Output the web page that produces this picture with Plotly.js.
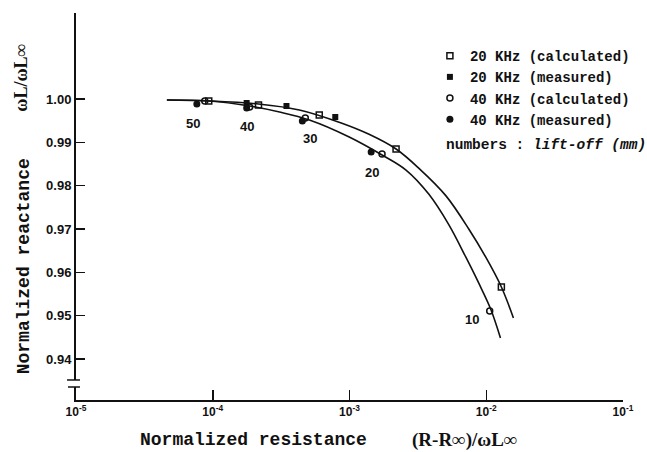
<!DOCTYPE html>
<html>
<head>
<meta charset="utf-8">
<script src="https://cdn.plot.ly/plotly-3.0.1.min.js"></script>
<style>html,body{margin:0;padding:0;background:#fff;}#chart{width:647px;height:452px;}</style>
</head>
<body>
<div id="chart"></div>
<script>
// ---- data ----
// 20 kHz calculated curve (solid line)
const curve20X = [4.62e-5, 9.51e-5, 2.16e-4, 4.30e-4, 8.70e-4, 1.39e-3, 2.19e-3, 3.22e-3, 5.06e-3, 7.45e-3, 9.90e-3, 1.29e-2, 1.58e-2];
const curve20Y = [0.99977, 0.99954, 0.99885, 0.99746, 0.99446, 0.99185, 0.98846, 0.98400, 0.97770, 0.97000, 0.96354, 0.95661, 0.94946];
// 40 kHz calculated curve (solid line)
const curve40X = [4.62e-5, 9.51e-5, 1.86e-4, 3.08e-4, 5.09e-4, 9.95e-4, 1.73e-3, 2.59e-3, 3.81e-3, 5.32e-3, 7.08e-3, 8.80e-3, 1.077e-2, 1.27e-2];
const curve40Y = [0.99977, 0.99954, 0.99838, 0.99700, 0.99515, 0.99123, 0.98708, 0.98361, 0.97800, 0.97100, 0.96354, 0.95754, 0.95154, 0.94484];

// markers
const calc20X = [9.35e-5, 2.16e-4, 6.01e-4, 2.19e-3, 1.29e-2];
const calc20Y = [0.99954, 0.99862, 0.99631, 0.98846, 0.95661];
const meas20X = [1.77e-4, 3.46e-4, 7.87e-4];
const meas20Y = [0.99908, 0.99838, 0.99585];
const calc40X = [8.74e-5, 1.86e-4, 4.75e-4, 1.73e-3, 1.06e-2];
const calc40Y = [0.99954, 0.99815, 0.99562, 0.98731, 0.95107];
const meas40X = [7.65e-5, 1.77e-4, 4.52e-4, 1.44e-3];
const meas40Y = [0.99885, 0.99792, 0.99492, 0.98777];

// lift-off labels (mm)
const liftLabels = ["50", "40", "30", "20", "10"];
const liftX = [7.14e-5, 1.77e-4, 5.17e-4, 1.463e-3, 7.83e-3];
const liftY = [0.99446, 0.99354, 0.99100, 0.98315, 0.94900];

const seriesNames = ["20 KHz (calculated)", "20 KHz (measured)", "40 KHz (calculated)", "40 KHz (measured)"];

const yTickVals = [1.00, 0.99, 0.98, 0.97, 0.96, 0.95, 0.94];
const yTickText = ["1.00", "0.99", "0.98", "0.97", "0.96", "0.95", "0.94"];
const xTickVals = [1e-5, 1e-4, 1e-3, 1e-2, 1e-1];
const xTickText = ["10<sup>-5</sup>", "10<sup>-4</sup>", "10<sup>-3</sup>", "10<sup>-2</sup>", "10<sup>-1</sup>"];

// ---- plot ----
const black = "#111";
const traces = [
  {x: curve20X, y: curve20Y, mode: "lines", line: {color: black, width: 1.6, shape: "spline", smoothing: 1}, showlegend: false, hoverinfo: "skip"},
  {x: curve40X, y: curve40Y, mode: "lines", line: {color: black, width: 1.6, shape: "spline", smoothing: 1}, showlegend: false, hoverinfo: "skip"},
  {x: calc20X, y: calc20Y, mode: "markers", name: seriesNames[0], marker: {symbol: "square-open", size: 6, color: black, line: {width: 1.5, color: black}}},
  {x: meas20X, y: meas20Y, mode: "markers", name: seriesNames[1], marker: {symbol: "square", size: 6, color: black}},
  {x: calc40X, y: calc40Y, mode: "markers", name: seriesNames[2], marker: {symbol: "circle-open", size: 6, color: black, line: {width: 1.5, color: black}}},
  {x: meas40X, y: meas40Y, mode: "markers", name: seriesNames[3], marker: {symbol: "circle", size: 7, color: black}}
];

const annotations = liftLabels.map((t, i) => ({
  x: Math.log10(liftX[i]), y: liftY[i], xref: "x", yref: "y", text: t, showarrow: false,
  font: {family: "Liberation Sans", size: 13, color: black, weight: "bold"}
}));

annotations.push(
  {x: 0.324, y: -0.1034, xref: "paper", yref: "paper", text: "Normalized resistance", showarrow: false,
   xanchor: "center", yanchor: "middle", font: {family: "Liberation Mono", size: 18, color: black, weight: "bold"}},
  {x: 0.710, y: -0.1034, xref: "paper", yref: "paper", text: "(R-R∞)/ωL∞", showarrow: false,
   xanchor: "center", yanchor: "middle", font: {family: "Liberation Serif", size: 19, color: black, weight: "bold"}},
  {x: -0.0947, y: 0.346, xref: "paper", yref: "paper", text: "Normalized reactance", showarrow: false, textangle: -90,
   xanchor: "center", yanchor: "middle", font: {family: "Liberation Mono", size: 18, color: black, weight: "bold"}},
  {x: -0.101, y: 0.832, xref: "paper", yref: "paper", text: "ωL/ωL∞", showarrow: false, textangle: -90,
   xanchor: "center", yanchor: "middle", font: {family: "Liberation Serif", size: 18, color: black, weight: "bold"}},
  {x: 0.672, y: 0.659, xref: "paper", yref: "paper", text: "numbers : <i>lift-off (mm)</i>", showarrow: false,
   xanchor: "left", yanchor: "middle", font: {family: "Liberation Mono", size: 14.5, color: black, weight: "bold"}}
);

const layout = {
  width: 647, height: 452,
  margin: {l: 76, r: 22, t: 13, b: 52},
  paper_bgcolor: "#fff", plot_bgcolor: "#fff",
  showlegend: true,
  legend: {x: 0.647, y: 0.93, xanchor: "left", yanchor: "top", bgcolor: "rgba(0,0,0,0)", borderwidth: 0,
           tracegroupgap: 0, itemwidth: 30,
           font: {family: "Liberation Mono", size: 14, color: black, weight: "bold"}},
  xaxis: {type: "log", range: [-5, -1], tickvals: xTickVals, ticktext: xTickText,
          ticks: "inside", ticklen: 10, tickwidth: 1.5, tickcolor: black,
          showline: true, linewidth: 2, linecolor: black, showgrid: false, zeroline: false,
          tickfont: {family: "Liberation Sans", size: 12, color: black, weight: "bold"}},
  yaxis: {range: [0.93053, 1.01985], tickvals: yTickVals, ticktext: yTickText,
          ticks: "inside", ticklen: 9, tickwidth: 1.5, tickcolor: black,
          showline: true, linewidth: 2, linecolor: black, showgrid: false, zeroline: false,
          tickfont: {family: "Liberation Sans", size: 13, color: black, weight: "bold"}},
  annotations: annotations,
  shapes: [
    {type: "rect", xref: "paper", yref: "y", x0: -0.02, x1: 0.012, y0: 0.93353, y1: 0.93515,
     fillcolor: "#fff", line: {width: 0}, layer: "above"},
    {type: "line", xref: "paper", yref: "y", x0: -0.0164, x1: 0.0073, y0: 0.93515, y1: 0.93515,
     line: {color: black, width: 1.5}, layer: "above"},
    {type: "line", xref: "paper", yref: "y", x0: -0.0146, x1: 0.0073, y0: 0.93353, y1: 0.93353,
     line: {color: black, width: 1.5}, layer: "above"}
  ]
};

Plotly.newPlot("chart", traces, layout, {displayModeBar: false, staticPlot: true});
</script>
</body>
</html>
